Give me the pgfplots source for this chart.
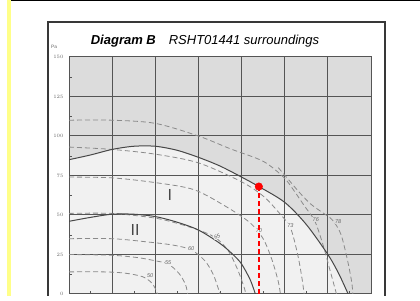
\documentclass[border=0pt]{standalone}
\usepackage{fontspec}
\setmainfont{Liberation Sans}
\usepackage{pgfplots}
\pgfplotsset{compat=1.18}
\definecolor{bgdark}{HTML}{DCDCDC}
\definecolor{bglight}{HTML}{F1F1F1}
\definecolor{gridc}{HTML}{555555}
\definecolor{dashc}{HTML}{8A8A8A}
\definecolor{curvec}{HTML}{474747}
\definecolor{yel}{HTML}{FFFF88}
\definecolor{lblc}{HTML}{666666}
\begin{document}
\begin{tikzpicture}[x=1pt,y=1pt]
\path (0,0) rectangle (420,296);
\fill[yel] (7,0) rectangle (10.5,296);
\fill[black] (11,294.6) rectangle (420,296);
\draw[line width=1.4pt, color=black!78] (48,0) -- (48,274) -- (385,274) -- (385,0);
\node[font=\fontsize{13}{14}\selectfont\itshape] at (205,254.5) {\textbf{Diagram B}\quad RSHT01441 surroundings};
\node[font=\fontsize{4.8}{5}\selectfont, text=black!60] at (54,249) {Pa};
\begin{axis}[set layers, at={(69pt,2pt)}, anchor=south west, scale only axis,
  width=302pt, height=237pt, xmin=0, xmax=7, ymin=0, ymax=150,
  xtick={0,...,7}, ytick={0,25,...,150}, xticklabels={},
  grid=major, major grid style={gridc, line width=1pt},
  axis line style={gridc, line width=1pt},
  major tick length=0pt, minor tick length=2.5pt, tick align=inside,
  xtick pos=bottom, ytick pos=left,
  minor xtick={0.5,1.5,2.5,3.5,4.5,5.5,6.5},
  minor ytick={12.5,37.5,62.5,87.5,112.5,137.5},
  minor tick style={gridc, line width=0.4pt},
  yticklabel style={font=\fontsize{5}{5}\selectfont, text=black!60, xshift=-2pt},
  axis background/.style={fill=bgdark}]
% light region under curve I
\addplot[on layer=axis background, fill=bglight, draw=none, smooth] coordinates {
 (0,85) (0.5,88) (1,91.5) (1.5,93.5) (2,93.5) (2.5,91) (3,86.5) (3.5,81) (4,74) (4.4,68) (5,58) (5.5,44) (6,25) (6.25,13) (6.47,0)} \closedcycle;
% dashed sound curves
\addplot[dashc, line width=0.8pt, dash pattern=on 5pt off 3pt, smooth] coordinates {(0,14) (0.8,14) (1.3,13.2) (1.7,11) (1.9,7.5) (2.0,3.5) (2.05,0)};
\addplot[dashc, line width=0.8pt, dash pattern=on 5pt off 3pt, smooth] coordinates {(0,25) (1,24.5) (1.6,23) (2.0,21) (2.3,19) (2.55,13) (2.7,6) (2.75,0)};
\addplot[dashc, line width=0.8pt, dash pattern=on 5pt off 3pt, smooth] coordinates {(0,35) (1,35) (1.8,33) (2.4,31) (2.83,28) (3.15,21) (3.35,12) (3.5,0)};
\addplot[dashc, line width=0.8pt, dash pattern=on 5pt off 3pt, smooth] coordinates {(0,51) (1,51) (2,48) (2.6,44) (3.1,39.5) (3.43,35) (3.7,27) (3.9,16) (4.05,5) (4.1,0)};
\addplot[dashc, line width=0.8pt, dash pattern=on 5pt off 3pt, smooth] coordinates {(0,74) (1,73.5) (2,70.5) (2.9,66) (3.66,55) (4.2,45) (4.5,35) (4.7,22) (4.85,8) (4.9,0)};
\addplot[dashc, line width=0.8pt, dash pattern=on 5pt off 3pt, smooth] coordinates {(0,93) (1,91.5) (2,88.5) (3,83) (4,71) (4.5,62) (4.85,52) (5.13,42) (5.3,25) (5.4,10) (5.45,0)};
\addplot[dashc, line width=0.8pt, dash pattern=on 5pt off 3pt, smooth] coordinates {(0,110) (1,110) (2,108) (3,100) (3.73,92) (4.5,84) (4.97,74) (5.2,66) (5.45,56) (5.7,46) (5.9,30) (6.05,15) (6.2,0)};
\addplot[dashc, line width=0.8pt, dash pattern=on 5pt off 3pt, smooth] coordinates {(4.85,80) (5.1,72) (5.35,64) (5.6,57) (5.85,52) (6.1,47) (6.3,38) (6.45,22) (6.55,8) (6.58,0)};
% solid fan curves
\addplot[curvec, line width=1pt, smooth] coordinates {
 (0,85) (0.5,88) (1,91.5) (1.5,93.5) (2,93.5) (2.5,91) (3,86.5) (3.5,81) (4,74) (4.4,68) (5,58) (5.5,44) (6,25) (6.25,13) (6.47,0)};
\addplot[curvec, line width=1pt, smooth] coordinates {
 (0,46) (0.5,48.5) (1,50.5) (1.5,50.5) (2,49) (2.5,45.5) (3,40.5) (3.5,32) (3.8,25) (4,19) (4.2,9) (4.32,0)};
% labels
\begin{scope}[every node/.style={font=\fontsize{5.5}{6}\selectfont\itshape, text=lblc, inner sep=0.6pt}]
\node[fill=bglight] at (axis cs:1.88,11.5) {50};
\node[fill=bglight] at (axis cs:2.3,19.6) {55};
\node[fill=bglight] at (axis cs:2.83,29) {60};
\node[fill=bglight, rotate=25] at (axis cs:3.43,36.5) {65};
\node[fill=bglight] at (axis cs:4.4,40) {70};
\node[fill=bglight] at (axis cs:5.13,43.6) {73};
\node[fill=bgdark] at (axis cs:5.72,47) {76};
\node[fill=bgdark] at (axis cs:6.24,45.6) {78};
\end{scope}
\node[font=\fontsize{16}{16}\selectfont, text=curvec] at (axis cs:2.34,62.6) {I};
\node[font=\fontsize{16}{16}\selectfont, text=curvec] at (axis cs:1.53,40.5) {II};
% operating point
\addplot[red, line width=1.6pt, dash pattern=on 5pt off 3pt] coordinates {(4.4,0) (4.4,66)};
\addplot[only marks, mark=*, mark size=3.8pt, red] coordinates {(4.4,68)};
\end{axis}
\end{tikzpicture}
\end{document}
